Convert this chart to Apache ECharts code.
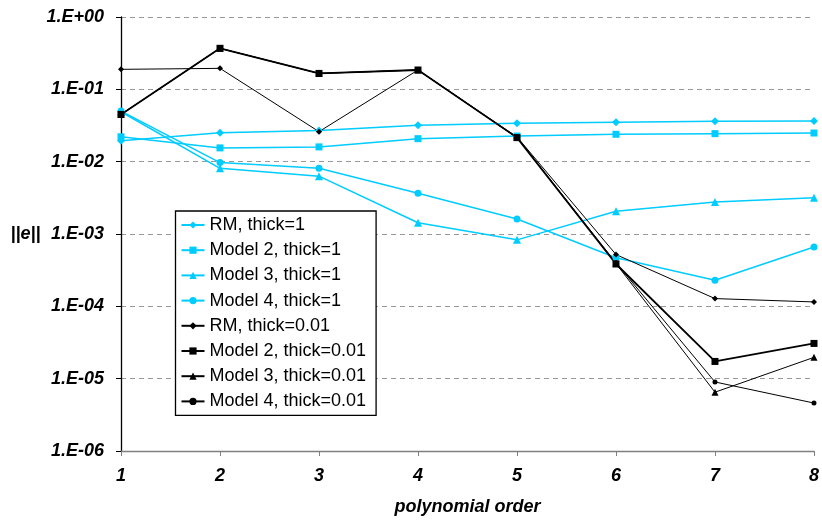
<!DOCTYPE html>
<html>
<head>
<meta charset="utf-8">
<script src="https://cdn.jsdelivr.net/npm/echarts@6/dist/echarts.min.js"></script>
<style>html,body{margin:0;padding:0;background:#fff;}#c{width:822px;height:521px;}</style>
</head>
<body>
<div id="c"></div>
<script>
var categories = ['1', '2', '3', '4', '5', '6', '7', '8'];
var rmThick1 = [0.0195, 0.0251, 0.027, 0.0318, 0.0339, 0.0350, 0.0361, 0.0365];
var model2Thick1 = [0.0221, 0.0155, 0.0160, 0.0208, 0.0226, 0.0239, 0.0244, 0.0249];
var model3Thick1 = [0.049, 0.0081, 0.0063, 0.00143, 0.00083, 0.00206, 0.00277, 0.00318];
var model4Thick1 = [0.050, 0.0097, 0.0081, 0.00365, 0.00161, 0.00047, 0.00023, 0.00066];
var rmThick001 = [0.189, 0.195, 0.026, 0.185, 0.022, 0.00052, 0.000128, 0.000115];
var model2Thick001 = [0.045, 0.369, 0.166, 0.185, 0.0215, 0.000385, 0.0000173, 0.0000307];
var model3Thick001 = [0.045, 0.369, 0.166, 0.185, 0.0215, 0.00039, 0.0000065, 0.0000197];
var model4Thick001 = [0.045, 0.369, 0.166, 0.185, 0.0215, 0.00040, 0.0000090, 0.0000046];
var seriesNames = ['RM, thick=1', 'Model 2, thick=1', 'Model 3, thick=1', 'Model 4, thick=1',
  'RM, thick=0.01', 'Model 2, thick=0.01', 'Model 3, thick=0.01', 'Model 4, thick=0.01'];

var CYAN = '#00CCFF';
var FONT = "'Liberation Sans', Arial, sans-serif";

function mk(name, data, color, symbol, size, lw) {
  return {
    name: name, type: 'line', data: data, symbol: symbol, symbolSize: size,
    showAllSymbol: true,
    lineStyle: { color: color, width: lw },
    itemStyle: { color: color },
    emphasis: { disabled: true },
    animation: false
  };
}

var chart = echarts.init(document.getElementById('c'));
chart.setOption({
  animation: false,
  grid: { left: 121, right: 5, top: 17, bottom: 70 },
  legend: {
    orient: 'vertical', left: 175.5, top: 211,
    data: seriesNames,
    itemWidth: 23, itemHeight: 9, itemGap: 7.2,
    padding: [5, 10, 5, 5],
    borderColor: '#000', borderWidth: 1.3, backgroundColor: '#fff',
    textStyle: { fontSize: 18, fontFamily: FONT, color: '#000' }
  },
  xAxis: {
    type: 'category', data: categories, boundaryGap: false,
    name: 'polynomial order', nameLocation: 'middle', nameGap: 47,
    nameTextStyle: { fontSize: 18, fontWeight: 'bold', fontStyle: 'italic', fontFamily: FONT, color: '#000' },
    axisLine: { lineStyle: { color: '#808080', width: 1.3 } },
    axisTick: { show: true, length: 5, alignWithLabel: true, lineStyle: { color: '#808080' } },
    axisLabel: { margin: 16, fontSize: 18, fontWeight: 'bold', fontStyle: 'italic', fontFamily: FONT, color: '#000' },
    splitLine: { show: false }
  },
  yAxis: {
    type: 'log', min: 1e-6, max: 1, logBase: 10,
    name: '||e||', nameLocation: 'middle', nameGap: 80, nameRotate: 0,
    nameTextStyle: { fontSize: 18, fontWeight: 'bold', fontStyle: 'italic', fontFamily: FONT, color: '#000' },
    axisLine: { show: true, lineStyle: { color: '#000', width: 1.3 } },
    axisTick: { show: true, length: 5, lineStyle: { color: '#000' } },
    axisLabel: {
      margin: 17, fontSize: 18, fontWeight: 'bold', fontStyle: 'italic', fontFamily: FONT, color: '#000',
      formatter: function (v) {
        var e = Math.round(Math.log10(v));
        var s = e < 0 ? '-' : '+';
        var a = Math.abs(e);
        return '1.E' + s + (a < 10 ? '0' : '') + a;
      }
    },
    splitLine: { show: true, lineStyle: { color: '#999', type: [5, 4], width: 1.2 } },
    minorTick: { show: false }
  },
  series: [
    mk(seriesNames[0], rmThick1, CYAN, 'diamond', 8, 1.5),
    mk(seriesNames[1], model2Thick1, CYAN, 'rect', 7, 1.5),
    mk(seriesNames[2], model3Thick1, CYAN, 'triangle', 8, 1.5),
    mk(seriesNames[3], model4Thick1, CYAN, 'circle', 7, 1.5),
    mk(seriesNames[4], rmThick001, '#000', 'diamond', 6, 1),
    mk(seriesNames[5], model2Thick001, '#000', 'rect', 7, 1.8),
    mk(seriesNames[6], model3Thick001, '#000', 'triangle', 7, 1),
    mk(seriesNames[7], model4Thick001, '#000', 'circle', 5, 1)
  ]
});
</script>
</body>
</html>
